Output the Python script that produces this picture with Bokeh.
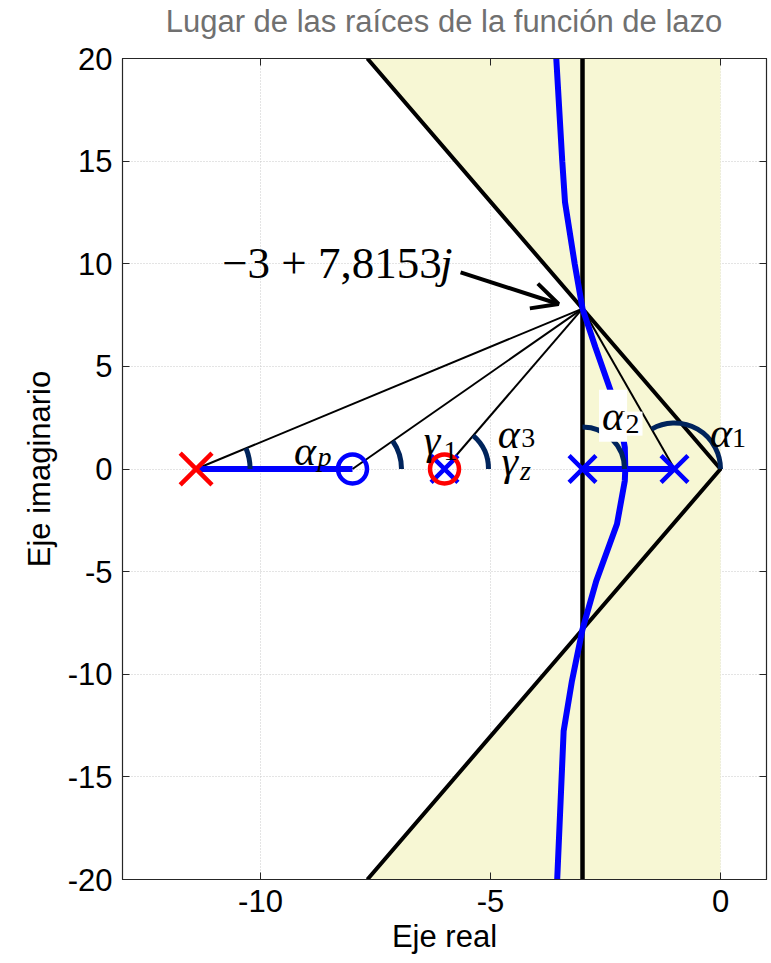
import math
from bokeh.plotting import figure
from bokeh.layouts import column
from bokeh.models import Range1d, LinearAxis, FixedTicker, Arrow, OpenHead, Label, Div
from bokeh.embed import file_html
from bokeh.resources import INLINE

# ---- data -------------------------------------------------------------
X_RANGE = (-13, 1)
Y_RANGE = (-20, 20)
X_TICKS = [-10, -5, 0]
Y_TICKS = [-20, -15, -10, -5, 0, 5, 10, 15, 20]

PLANT_POLES = [-1, -3, -6]        # blue crosses
PLANT_ZEROS = [-8]                # blue circle
COMP_POLES = [-11.4]              # red cross
COMP_ZEROS = [-6]                 # red circle (cancels the pole at -6)

TEST_RE = -3.0                    # desired closed-loop pole
TEST_IM = 7.8153

# real-axis branches of the locus
REAL_SEGMENTS = [(-11.4, -8.0), (-3.0, -1.0)]

# complex branches (leave the real axis near -2.07)
UPPER_RE = [-2.07, -2.08, -2.17, -2.39, -2.72, -3.00, -3.17, -3.38, -3.44, -3.57]
UPPER_IM = [0.00, 1.05, 2.20, 3.82, 5.93, 7.8153, 10.00, 13.00, 15.00, 20.00]
LOWER_RE = [-2.07, -2.08, -2.25, -2.70, -3.00, -3.23, -3.41, -3.55]
LOWER_IM = [0.00, -0.57, -2.68, -5.45, -7.8153, -10.33, -12.77, -20.00]

TITLE = "Lugar de las raíces de la función de lazo"

# ---- figure -----------------------------------------------------------
FONT = "Liberation Sans"
SERIF = "Liberation Serif"
DARK = "#262626"

p = figure(width=771, height=923, x_range=Range1d(*X_RANGE), y_range=Range1d(*Y_RANGE),
           output_backend="svg", toolbar_location=None,
           min_border_left=122, min_border_right=5, min_border_top=18, min_border_bottom=84)
p.background_fill_color = "white"
p.border_fill_color = "white"
p.outline_line_color = DARK
p.outline_line_width = 1.2

def plain(t):
    return str(int(t)) if float(t).is_integer() else str(t)

for ax, ticks, lab in ((p.xaxis[0], X_TICKS, "Eje real"), (p.yaxis[0], Y_TICKS, "Eje imaginario")):
    ax.ticker = FixedTicker(ticks=ticks, minor_ticks=[])
    ax.major_label_overrides = {t: plain(t) for t in ticks}
    ax.axis_label = lab
    ax.axis_label_text_font = FONT
    ax.axis_label_text_font_size = "31px"
    ax.axis_label_text_font_style = "normal"
    ax.axis_label_text_color = "black"
    ax.major_label_text_font = FONT
    ax.major_label_text_font_size = "31px"
    ax.major_label_text_color = "black"
    ax.major_tick_in = 7
    ax.major_tick_out = 0
    ax.major_tick_line_color = DARK
    ax.axis_line_color = DARK
    ax.major_label_standoff = 10
p.xaxis[0].axis_label_standoff = 4
p.yaxis[0].axis_label_standoff = 8

# tick marks on the opposite sides of the box
for side, ticks in (("right", Y_TICKS), ("above", X_TICKS)):
    ax = LinearAxis(ticker=FixedTicker(ticks=ticks, minor_ticks=[]),
                    major_label_overrides={t: "" for t in ticks},
                    major_label_text_font_size="0px", major_label_standoff=0,
                    major_tick_in=7, major_tick_out=0, major_tick_line_color=DARK,
                    axis_line_color=DARK)
    p.add_layout(ax, side)

for g, ticks in ((p.xgrid[0], X_TICKS), (p.ygrid[0], Y_TICKS)):
    g.ticker = FixedTicker(ticks=ticks, minor_ticks=[])
    g.grid_line_color = "#c8c8c8"
    g.grid_line_dash = "1 2"
    g.grid_line_width = 1

# ---- forbidden region (damping cone + settling-time bound) -------------
slope = TEST_IM / abs(TEST_RE)            # |Im| / |Re| on the damping line
x_top = -Y_RANGE[1] / slope
region_x = [x_top, 0, 0, x_top, TEST_RE, TEST_RE]
region_y = [Y_RANGE[1], Y_RANGE[1], Y_RANGE[0], Y_RANGE[0], -TEST_IM, TEST_IM]
p.patch(region_x, region_y, fill_color="#f7f7d4", line_color=None)

# damping lines and settling-time line
p.line([x_top, 0, x_top], [Y_RANGE[1], 0, Y_RANGE[0]], line_color="black", line_width=4)
p.line([TEST_RE, TEST_RE], list(Y_RANGE), line_color="black", line_width=4.5)

# vectors from the singularities to the test point
for s in COMP_POLES + PLANT_ZEROS + COMP_ZEROS + [PLANT_POLES[0]]:
    p.line([s, TEST_RE], [0, TEST_IM], line_color="black", line_width=2)

# root locus
for a, b in REAL_SEGMENTS:
    p.line([a, b], [0, 0], line_color="#0000ff", line_width=6)
p.line(UPPER_RE, UPPER_IM, line_color="#0000ff", line_width=6)
p.line(LOWER_RE, LOWER_IM, line_color="#0000ff", line_width=6)

# angle arcs, drawn in screen space
fw, fh = 644.0, 821.0
kx = fw / (X_RANGE[1] - X_RANGE[0])
ky = fh / (Y_RANGE[1] - Y_RANGE[0])

def screen_angle(s):
    return math.atan2(TEST_IM * ky, (TEST_RE - s) * kx)

ARC_COLOR = "#00245c"
arcs = [(COMP_POLES[0], 54), (PLANT_ZEROS[0], 49), (COMP_ZEROS[0], 44),
        (PLANT_POLES[1], 42), (PLANT_POLES[0], 46)]
for s, r in arcs:
    p.arc(x=[s], y=[0], radius=r, radius_units="screen", start_angle=0,
          end_angle=screen_angle(s), direction="anticlock",
          line_color=ARC_COLOR, line_width=5)

# poles and zeros
p.scatter(PLANT_POLES, [0] * len(PLANT_POLES), marker="x", size=38,
          line_color="#0000ff", line_width=4.5)
p.scatter(PLANT_ZEROS, [0] * len(PLANT_ZEROS), marker="circle", size=29,
          line_color="#0000ff", fill_color=None, line_width=4.5)
p.scatter(COMP_POLES, [0] * len(COMP_POLES), marker="x", size=45,
          line_color="#ff0000", line_width=4.5)
p.scatter(COMP_ZEROS, [0] * len(COMP_ZEROS), marker="circle", size=29,
          line_color="#ff0000", fill_color=None, line_width=4.5)

# annotation of the test point
p.add_layout(Arrow(end=OpenHead(size=26, line_width=4, line_color="black"),
                   x_start=-5.65, y_start=9.58, x_end=-3.52, y_end=8.04,
                   line_color="black", line_width=4))

label = "\u2212{:g} + {:.4f}".format(abs(TEST_RE), TEST_IM).replace(".", ",")
p.add_layout(Label(x=-6.06, y=10.06, text=label, text_font=SERIF, text_font_size="45px",
                   text_align="right", text_baseline="alphabetic", text_color="black"))
p.add_layout(Label(x=-6.10, y=10.06, text="j", text_font=SERIF, text_font_size="45px",
                   text_font_style="italic", text_align="left", text_baseline="alphabetic",
                   text_color="black"))

def greek(sym, sub, x, y, xs, ys, bg=None):
    kw = dict(text_font=SERIF, text_baseline="alphabetic", text_align="left", text_color="black")
    if bg:
        kw.update(background_fill_color=bg, padding=3)
    p.add_layout(Label(x=x, y=y, text=sym, text_font_size="42px", text_font_style="italic", **kw))
    sub_style = "italic" if sub.isalpha() else "normal"
    p.add_layout(Label(x=xs, y=ys, text=sub, text_font_size="28px", text_font_style=sub_style, **kw))

greek("\u03b1", "p", -9.27, 0.89, -8.76, 0.62)
greek("\u03b3", "1", -6.45, 1.43, -6.02, 0.89)
greek("\u03b1", "3", -4.84, 1.72, -4.33, 1.53)
greek("\u03b3", "z", -4.76, 0.40, -4.36, -0.08)
greek("\u03b1", "2", -2.64, 2.60, -2.13, 2.21, bg="white")
greek("\u03b1", "1", -0.23, 1.77, 0.25, 1.53)

# title above the frame, centred on it
head = Div(text='<div style="padding-top:2px; line-height:40px">' + TITLE + '</div>',
           width=644, height=40, margin=(0, 0, 0, 122),
           styles={"font-family": FONT, "font-size": "31px", "color": "#707070",
                   "text-align": "center", "white-space": "nowrap"})

page = column(head, p, spacing=0)
open("out.html", "w").write(file_html(page, INLINE))
